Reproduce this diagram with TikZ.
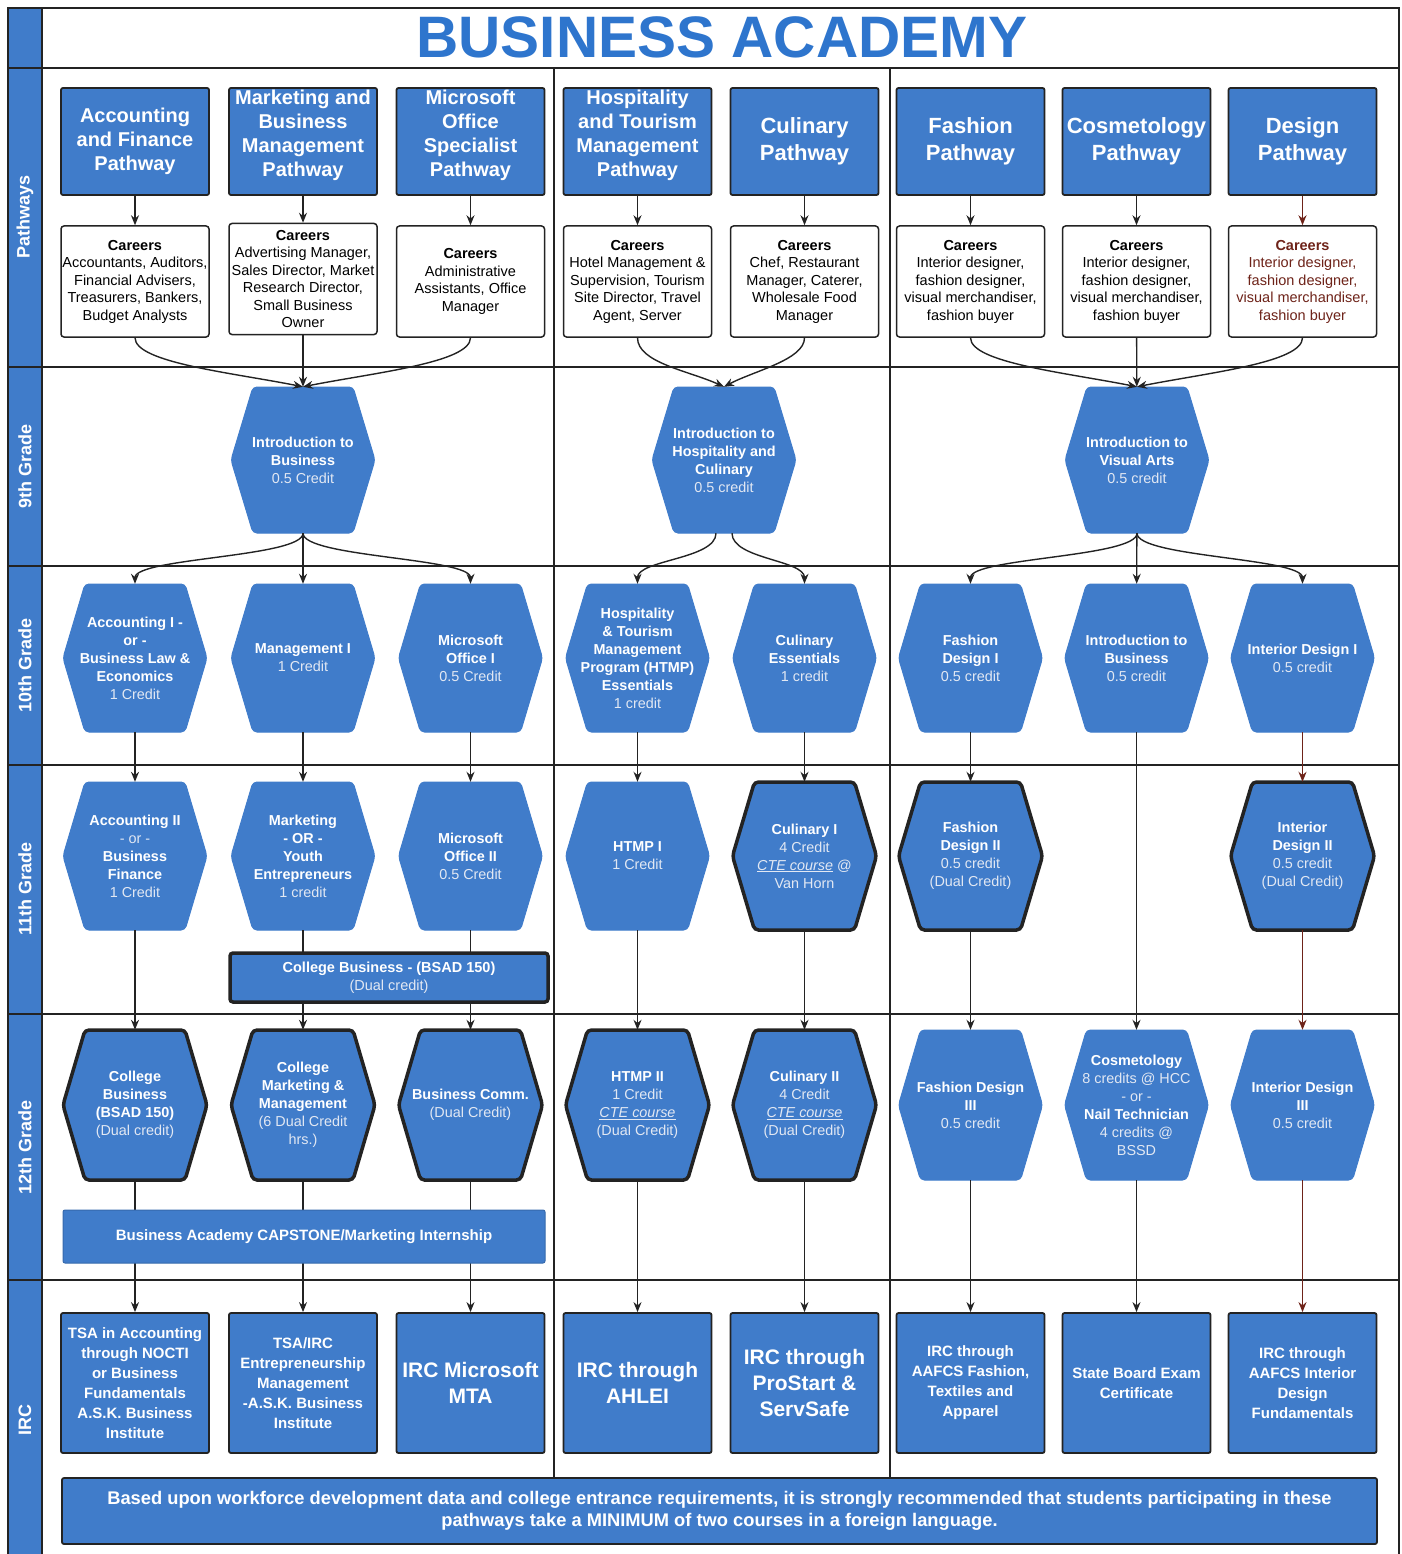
\documentclass[tikz,border=0pt]{standalone}
\usepackage{fontspec}
\setmainfont{Liberation Sans}
\usetikzlibrary{arrows.meta,calc}
\definecolor{bluef}{RGB}{64,124,202}
\definecolor{titleblue}{RGB}{46,117,205}
\definecolor{darkl}{RGB}{35,35,35}
\definecolor{credtxt}{RGB}{226,232,243}
\definecolor{redline}{RGB}{110,35,25}
\newcommand\fsz[2]{\fontsize{#1}{#2}\selectfont}
\newcommand\crd{\mdseries\color{credtxt}}
\newcommand\cte{\underline{\textit{CTE course}}}
\newcommand\hexa[6]{%
  \path[hexshape,#5] (#2-50,#3-#4) -- (#2+50,#3-#4) -- (#2+72,#3) -- (#2+50,#3+#4) -- (#2-50,#3+#4) -- (#2-72,#3) -- cycle;
  \node[hextext,minimum height=2*#4] (#1) at (#2,#3) {#6};}
\begin{document}
\begin{tikzpicture}[x=1pt,y=-1pt,
  pathbox/.style={draw=darkl,line width=1.8,fill=bluef,rounded corners=2,minimum width=148,minimum height=107,inner sep=0,text=white,font=\bfseries\fsz{20}{24},align=center},
  pathup/.style={text depth=17pt},
  carbox/.style={draw=darkl,line width=1.5,fill=white,rounded corners=3,minimum width=148,minimum height=111,inner sep=0,font=\fsz{14.5}{17.5},align=center},
  hexshape/.style={fill=bluef,draw=bluef,line width=1,rounded corners=4},
  hexthick/.style={draw=darkl,line width=3.5},
  hextext/.style={minimum width=144,inner sep=0,text=white,font=\bfseries\fsz{14.4}{18},align=center},
  ircbox/.style={draw=darkl,line width=1.8,fill=bluef,rounded corners=2,minimum width=148,minimum height=140,inner sep=0,text=white,font=\bfseries\fsz{15}{20},align=center},
  ircbig/.style={font=\bfseries\fsz{21}{26}},
  conn/.style={draw=darkl,line width=1.4,-{Stealth[length=10,width=8]}},
  redconn/.style={conn,draw=redline},
  rowline/.style={draw=darkl,line width=1.8},
  bandlbl/.style={text=white,font=\bfseries\fsz{18}{20},rotate=90,inner sep=0}
]
\useasboundingbox (0,0) rectangle (1401,1554);
% frame
\fill[bluef] (8,8) rectangle (42,1554);
\draw[rowline] (8,1554) -- (8,8) -- (1399,8) -- (1399,1554);
\draw[rowline] (42,8) -- (42,1554);
\foreach \yy in {68,367,566,765,1014,1280} {\draw[rowline] (8,\yy) -- (1399,\yy);}
\draw[darkl,line width=1.5] (554,68) -- (554,1478);
\draw[darkl,line width=1.5] (890,68) -- (890,1478);
% band labels
\node[bandlbl] (lb1) at (25,217) {Pathways};
\node[bandlbl] (lb2) at (25,466) {9th Grade};
\node[bandlbl] (lb3) at (25,665) {10th Grade};
\node[bandlbl] (lb4) at (25,889) {11th Grade};
\node[bandlbl] (lb5) at (25,1147) {12th Grade};
\node[bandlbl] (lb6) at (25,1420) {IRC};
% title
\node[font=\bfseries\fsz{58.5}{60},text=titleblue] (title) at (722,37) {BUSINESS ACADEMY};
% pathways
\node[pathbox] (p1) at (135,141.5) {Accounting\\and Finance\\Pathway};
\node[pathbox,pathup] (p2) at (303,141.5) {Marketing and\\Business\\Management\\Pathway};
\node[pathbox,pathup] (p3) at (470.5,141.5) {Microsoft\\Office\\Specialist\\Pathway};
\node[pathbox,pathup] (p4) at (637.5,141.5) {Hospitality\\and Tourism\\Management\\Pathway};
\node[pathbox,font=\bfseries\fsz{22}{27}] (p5) at (804.5,141.5) {Culinary\\Pathway};
\node[pathbox,font=\bfseries\fsz{22}{27}] (p6) at (970.5,141.5) {Fashion\\Pathway};
\node[pathbox,font=\bfseries\fsz{22}{27}] (p7) at (1136.5,141.5) {Cosmetology\\Pathway};
\node[pathbox,font=\bfseries\fsz{22}{27}] (p8) at (1302.5,141.5) {Design\\Pathway};
% careers
\node[carbox] (c1) at (135,281.5) {\textbf{Careers}\\Accountants, Auditors,\\Financial Advisers,\\Treasurers, Bankers,\\Budget Analysts};
\node[carbox] (c2) at (303,279) {\textbf{Careers}\\Advertising Manager,\\Sales Director, Market\\Research Director,\\Small Business\\Owner};
\node[carbox] (c3) at (470.5,281.5) {\textbf{Careers}\\Administrative\\Assistants, Office\\Manager};
\node[carbox] (c4) at (637.5,281.5) {\textbf{Careers}\\Hotel Management \&\\Supervision, Tourism\\Site Director, Travel\\Agent, Server};
\node[carbox] (c5) at (804.5,281.5) {\textbf{Careers}\\Chef, Restaurant\\Manager, Caterer,\\Wholesale Food\\Manager};
\node[carbox] (c6) at (970.5,281.5) {\textbf{Careers}\\Interior designer,\\fashion designer,\\visual merchandiser,\\fashion buyer};
\node[carbox] (c7) at (1136.5,281.5) {\textbf{Careers}\\Interior designer,\\fashion designer,\\visual merchandiser,\\fashion buyer};
\node[carbox,text=redline] (c8) at (1302.5,281.5) {\textbf{Careers}\\Interior designer,\\fashion designer,\\visual merchandiser,\\fashion buyer};
% 9th grade
\hexa{g9a}{303}{460}{73}{}{Introduction to\\Business\\\crd 0.5 Credit}
\hexa{g9b}{724}{460}{73}{}{Introduction to\\Hospitality and\\Culinary\\\crd 0.5 credit}
\hexa{g9c}{1137}{460}{73}{}{Introduction to\\Visual Arts\\\crd 0.5 credit}
% 10th grade
\hexa{t1}{135}{658}{74}{}{Accounting I -\\or -\\Business Law \&\\Economics\\\crd 1 Credit}
\hexa{t2}{303}{658}{74}{}{Management I\\\crd 1 Credit}
\hexa{t3}{470.5}{658}{74}{}{Microsoft\\Office I\\\crd 0.5 Credit}
\hexa{t4}{637.5}{658}{74}{}{Hospitality\\\& Tourism\\Management\\Program (HTMP)\\Essentials\\\crd 1 credit}
\hexa{t5}{804.5}{658}{74}{}{Culinary\\Essentials\\\crd 1 credit}
\hexa{t6}{970.5}{658}{74}{}{Fashion\\Design I\\\crd 0.5 credit}
\hexa{t7}{1136.5}{658}{74}{}{Introduction to\\Business\\\crd 0.5 credit}
\hexa{t8}{1302.5}{658}{74}{}{Interior Design I\\\crd 0.5 credit}
% 11th grade
\hexa{e1}{135}{856}{74}{}{Accounting II\\\crd - or -\\Business\\Finance\\\crd 1 Credit}
\hexa{e2}{303}{856}{74}{}{Marketing\\- OR -\\Youth\\Entrepreneurs\\\crd 1 credit}
\hexa{e3}{470.5}{856}{74}{}{Microsoft\\Office II\\\crd 0.5 Credit}
\hexa{e4}{637.5}{856}{74}{}{HTMP I\\\crd 1 Credit}
\hexa{e5}{804.5}{856}{74}{hexthick}{Culinary I\\\crd 4 Credit\\\crd \cte{} @\\\crd Van Horn}
\hexa{e6}{970.5}{856}{74}{hexthick}{Fashion\\Design II\\\crd 0.5 credit\\\crd (Dual Credit)}
\hexa{e8}{1302.5}{856}{74}{hexthick}{Interior\\Design II\\\crd 0.5 credit\\\crd (Dual Credit)}
% 12th grade
\hexa{w1}{135}{1105}{75}{hexthick}{College\\Business\\(BSAD 150)\\\crd (Dual credit)}
\hexa{w2}{303}{1105}{75}{hexthick}{College\\Marketing \&\\Management\\\crd (6 Dual Credit\\\crd hrs.)}
\hexa{w3}{470.5}{1105}{75}{hexthick}{Business Comm.\\\crd (Dual Credit)}
\hexa{w4}{637.5}{1105}{75}{hexthick}{HTMP II\\\crd 1 Credit\\\crd \cte\\\crd (Dual Credit)}
\hexa{w5}{804.5}{1105}{75}{hexthick}{Culinary II\\\crd 4 Credit\\\crd \cte\\\crd (Dual Credit)}
\hexa{w6}{970.5}{1105}{75}{}{Fashion Design\\III\\\crd 0.5 credit}
\hexa{w7}{1136.5}{1105}{75}{}{Cosmetology\\\crd 8 credits @ HCC\\\crd - or -\\Nail Technician\\\crd 4 credits @\\\crd BSSD}
\hexa{w8}{1302.5}{1105}{75}{}{Interior Design\\III\\\crd 0.5 credit}
% IRC
\node[ircbox] (r1) at (135,1383) {TSA in Accounting\\through NOCTI\\or Business\\Fundamentals\\A.S.K. Business\\Institute};
\node[ircbox] (r2) at (303,1383) {TSA/IRC\\Entrepreneurship\\Management\\-A.S.K. Business\\Institute};
\node[ircbox,ircbig] (r3) at (470.5,1383) {IRC Microsoft\\MTA};
\node[ircbox,ircbig] (r4) at (637.5,1383) {IRC through\\AHLEI};
\node[ircbox,ircbig] (r5) at (804.5,1383) {IRC through\\ProStart \&\\ServSafe};
\node[ircbox] (r6) at (970.5,1383) {IRC through\\AAFCS Fashion,\\Textiles and\\Apparel};
\node[ircbox] (r7) at (1136.5,1383) {State Board Exam\\Certificate};
\node[ircbox] (r8) at (1302.5,1383) {IRC through\\AAFCS Interior\\Design\\Fundamentals};
% connectors pathway -> careers
\foreach \i in {1,...,7} {\draw[conn] (p\i) -- (c\i);}
\draw[redconn] (p8) -- (c8);
% careers -> 9th
\draw[conn] (c1.south) .. controls ($(c1.south)+(0,25)$) and ($(g9a.north)+(-70,-14)$) .. (g9a.north);
\draw[conn] (c2.south) -- (g9a.north);
\draw[conn] (c3.south) .. controls ($(c3.south)+(0,25)$) and ($(g9a.north)+(70,-14)$) .. (g9a.north);
\draw[conn] (c4.south) .. controls ($(c4.south)+(0,25)$) and ($(g9b.north)+(-35,-16)$) .. (g9b.north);
\draw[conn] (c5.south) .. controls ($(c5.south)+(0,22)$) and ($(g9b.north)+(30,-16)$) .. (g9b.north);
\draw[conn] (c6.south) .. controls ($(c6.south)+(0,25)$) and ($(g9c.north)+(-70,-14)$) .. (g9c.north);
\draw[conn] (c7) -- (g9c);
\draw[conn] (c8.south) .. controls ($(c8.south)+(0,25)$) and ($(g9c.north)+(70,-14)$) .. (g9c.north);
% 9th -> 10th
\draw[conn] (g9a.south) .. controls ($(g9a.south)+(0,24)$) and ($(t1.north)+(0,-26)$) .. (t1.north);
\draw[conn] (g9a) -- (t2);
\draw[conn] (g9a.south) .. controls ($(g9a.south)+(0,24)$) and ($(t3.north)+(0,-26)$) .. (t3.north);
\draw[conn] ($(g9b.south)+(-8,0)$) .. controls ($(g9b.south)+(-8,26)$) and ($(t4.north)+(0,-24)$) .. (t4.north);
\draw[conn] ($(g9b.south)+(8,0)$) .. controls ($(g9b.south)+(8,26)$) and ($(t5.north)+(0,-24)$) .. (t5.north);
\draw[conn] (g9c.south) .. controls ($(g9c.south)+(0,24)$) and ($(t6.north)+(0,-26)$) .. (t6.north);
\draw[conn] (g9c) -- (t7);
\draw[conn] (g9c.south) .. controls ($(g9c.south)+(0,24)$) and ($(t8.north)+(0,-26)$) .. (t8.north);
% 10th -> 11th
\foreach \i in {1,...,6} {\draw[conn] (t\i) -- (e\i);}
\draw[redconn] (t8) -- (e8);
\draw[conn] (t7) -- (w7);
% 11th -> 12th
\foreach \i in {1,...,6} {\draw[conn] (e\i) -- (w\i);}
\draw[redconn] (e8) -- (w8);
% 12th -> IRC
\foreach \i in {1,...,7} {\draw[conn] (w\i) -- (r\i);}
\draw[redconn] (w8) -- (r8);
% overlay boxes
\node[draw=darkl,line width=3.5,fill=bluef,rounded corners=3,minimum width=318,minimum height=49,inner sep=0,text=white,font=\bfseries\fsz{14.5}{18},align=center] (cb) at (389,977.5) {College Business - (BSAD 150)\\\crd (Dual credit)};
\node[draw=bluef!85!black,line width=1,fill=bluef,rounded corners=2,minimum width=482,minimum height=53,inner sep=0,text=white,font=\bfseries\fsz{15}{17}] (cap) at (304,1236.5) {Business Academy CAPSTONE/Marketing Internship};
\node[draw=darkl,line width=1.8,fill=bluef,rounded corners=2,minimum width=1315,minimum height=66,inner sep=0,text=white,font=\bfseries\fsz{18.3}{22},align=center] (foot) at (719.5,1511) {Based upon workforce development data and college entrance requirements, it is strongly recommended that students participating in these\\pathways take a MINIMUM of two courses in a foreign language.};
\end{tikzpicture}
\end{document}
